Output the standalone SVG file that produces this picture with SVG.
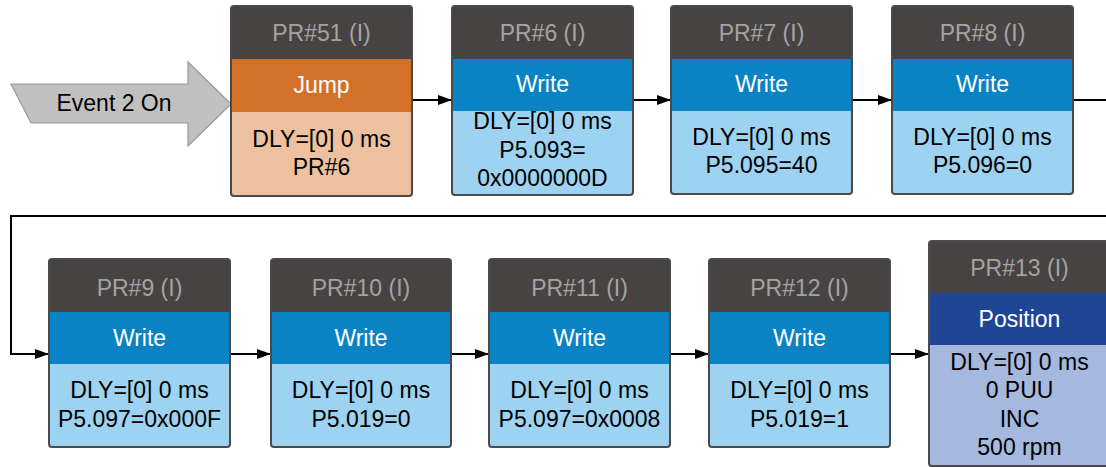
<svg xmlns="http://www.w3.org/2000/svg" width="1106" height="467" viewBox="0 0 1106 467">
<defs>
<style>
text{font-family:"Liberation Sans",Arial,sans-serif;font-size:23px;text-anchor:middle}
.hd{fill:#474342}
.ht{fill:#a3a3a3}
.wt{fill:#ffffff}
.bt{fill:#000000}
.jump{fill:#d37128}
.jbody{fill:#edc09f}
.write{fill:#0a83c4}
.wbody{fill:#9dd3f1}
.pos{fill:#1f4595}
.pbody{fill:#a5b8de}
.frame{fill:none;stroke:#4a4a4a;stroke-width:2}
.conn{fill:none;stroke:#000;stroke-width:2}
</style>
<marker id="ah" viewBox="0 0 14 10" refX="14" refY="5" markerWidth="14" markerHeight="10" markerUnits="userSpaceOnUse" orient="auto">
<path d="M0,0 L14,5 L0,10 z" fill="#000"/>
</marker>
</defs>
<rect width="1106" height="467" fill="#ffffff"/>

<g id="event">
<polygon points="11,84 188,84 188,62 231,104 188,146 188,123 31,123" fill="#c0c0c0" stroke="#9a9a9a" stroke-width="1.2"/>
<text x="114" y="111" class="bt">Event 2 On</text>
</g>

<g id="connectors">
<path class="conn" d="M412,100 H452" marker-end="url(#ah)"/>
<path class="conn" d="M633,100 H671" marker-end="url(#ah)"/>
<path class="conn" d="M852,100 H892" marker-end="url(#ah)"/>
<path class="conn" d="M1073,100 H1114 V216 H11 V354 H49" marker-end="url(#ah)"/>
<path class="conn" d="M230,354 H271" marker-end="url(#ah)"/>
<path class="conn" d="M451,354 H489" marker-end="url(#ah)"/>
<path class="conn" d="M670,354 H709" marker-end="url(#ah)"/>
<path class="conn" d="M890,354 H929" marker-end="url(#ah)"/>
</g>

<g id="pr51">
<rect x="231" y="6" width="181" height="54" rx="3" class="hd"/>
<rect x="231" y="59" width="181" height="53" class="jump"/>
<rect x="231" y="112" width="181" height="84" class="jbody"/>
<rect x="231" y="6" width="181" height="190" rx="3" class="frame"/>
<text x="321.5" y="41" class="ht">PR#51 (I)</text>
<text x="321.5" y="93" class="wt">Jump</text>
<text x="321.5" y="147" class="bt">DLY=[0] 0 ms</text>
<text x="321.5" y="175" class="bt">PR#6</text>
</g>

<g id="pr6">
<rect x="452" y="6" width="181" height="54" rx="3" class="hd"/>
<rect x="452" y="59" width="181" height="52" class="write"/>
<rect x="452" y="111" width="181" height="84" class="wbody"/>
<rect x="452" y="6" width="181" height="189" rx="3" class="frame"/>
<text x="542.5" y="41" class="ht">PR#6 (I)</text>
<text x="542.5" y="92" class="wt">Write</text>
<text x="542.5" y="129" class="bt">DLY=[0] 0 ms</text>
<text x="542.5" y="158" class="bt">P5.093=</text>
<text x="542.5" y="186" class="bt">0x0000000D</text>
</g>

<g id="pr7">
<rect x="671" y="6" width="181" height="54" rx="3" class="hd"/>
<rect x="671" y="59" width="181" height="52" class="write"/>
<rect x="671" y="111" width="181" height="83" class="wbody"/>
<rect x="671" y="6" width="181" height="188" rx="3" class="frame"/>
<text x="761.5" y="41" class="ht">PR#7 (I)</text>
<text x="761.5" y="92" class="wt">Write</text>
<text x="761.5" y="145" class="bt">DLY=[0] 0 ms</text>
<text x="761.5" y="173" class="bt">P5.095=40</text>
</g>

<g id="pr8">
<rect x="892" y="6" width="181" height="54" rx="3" class="hd"/>
<rect x="892" y="59" width="181" height="52" class="write"/>
<rect x="892" y="111" width="181" height="83" class="wbody"/>
<rect x="892" y="6" width="181" height="188" rx="3" class="frame"/>
<text x="982.5" y="41" class="ht">PR#8 (I)</text>
<text x="982.5" y="92" class="wt">Write</text>
<text x="982.5" y="145" class="bt">DLY=[0] 0 ms</text>
<text x="982.5" y="173" class="bt">P5.096=0</text>
</g>

<g id="pr9">
<rect x="49" y="259" width="181" height="54" rx="3" class="hd"/>
<rect x="49" y="312" width="181" height="52" class="write"/>
<rect x="49" y="364" width="181" height="83" class="wbody"/>
<rect x="49" y="259" width="181" height="188" rx="3" class="frame"/>
<text x="139.5" y="296" class="ht">PR#9 (I)</text>
<text x="139.5" y="346" class="wt">Write</text>
<text x="139.5" y="398" class="bt">DLY=[0] 0 ms</text>
<text x="139.5" y="427" class="bt">P5.097=0x000F</text>
</g>

<g id="pr10">
<rect x="271" y="259" width="180" height="54" rx="3" class="hd"/>
<rect x="271" y="312" width="180" height="52" class="write"/>
<rect x="271" y="364" width="180" height="83" class="wbody"/>
<rect x="271" y="259" width="180" height="188" rx="3" class="frame"/>
<text x="361" y="296" class="ht">PR#10 (I)</text>
<text x="361" y="346" class="wt">Write</text>
<text x="361" y="398" class="bt">DLY=[0] 0 ms</text>
<text x="361" y="427" class="bt">P5.019=0</text>
</g>

<g id="pr11">
<rect x="489" y="259" width="181" height="54" rx="3" class="hd"/>
<rect x="489" y="312" width="181" height="52" class="write"/>
<rect x="489" y="364" width="181" height="83" class="wbody"/>
<rect x="489" y="259" width="181" height="188" rx="3" class="frame"/>
<text x="579.5" y="296" class="ht">PR#11 (I)</text>
<text x="579.5" y="346" class="wt">Write</text>
<text x="579.5" y="398" class="bt">DLY=[0] 0 ms</text>
<text x="579.5" y="427" class="bt">P5.097=0x0008</text>
</g>

<g id="pr12">
<rect x="709" y="259" width="181" height="54" rx="3" class="hd"/>
<rect x="709" y="312" width="181" height="52" class="write"/>
<rect x="709" y="364" width="181" height="83" class="wbody"/>
<rect x="709" y="259" width="181" height="188" rx="3" class="frame"/>
<text x="799.5" y="296" class="ht">PR#12 (I)</text>
<text x="799.5" y="346" class="wt">Write</text>
<text x="799.5" y="398" class="bt">DLY=[0] 0 ms</text>
<text x="799.5" y="427" class="bt">P5.019=1</text>
</g>

<g id="pr13">
<rect x="929" y="241" width="181" height="53" rx="3" class="hd"/>
<rect x="929" y="293" width="181" height="52" class="pos"/>
<rect x="929" y="345" width="181" height="125" class="pbody"/>
<rect x="929" y="241" width="181" height="225" rx="3" class="frame"/>
<text x="1019.5" y="276" class="ht">PR#13 (I)</text>
<text x="1019.5" y="327" class="wt">Position</text>
<text x="1019.5" y="370" class="bt">DLY=[0] 0 ms</text>
<text x="1019.5" y="398" class="bt">0 PUU</text>
<text x="1019.5" y="427" class="bt">INC</text>
<text x="1019.5" y="455" class="bt">500 rpm</text>
</g>
</svg>
